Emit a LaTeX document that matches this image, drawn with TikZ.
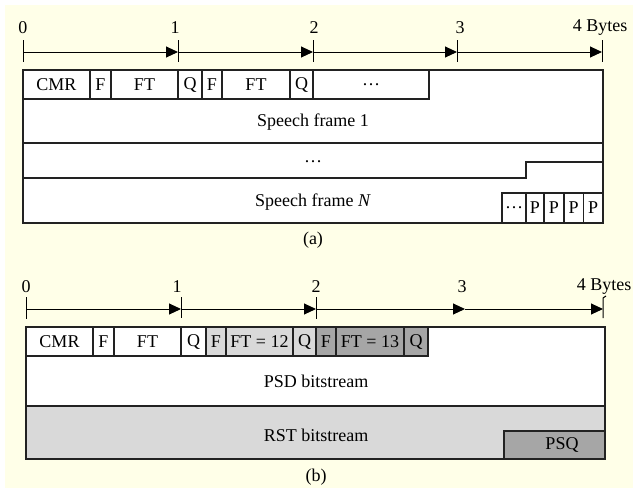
\documentclass[tikz,border=0pt]{standalone}
\usepackage{fontspec}
\setmainfont{Liberation Serif}
\usetikzlibrary{arrows.meta}
\definecolor{bgyel}{HTML}{FFFFE8}
\definecolor{lgray}{HTML}{D9D9D9}
\definecolor{dgray}{HTML}{A6A6A6}
\definecolor{lnc}{HTML}{222222}
\begin{document}
\begin{tikzpicture}[x=1pt,y=-1pt,line width=1.2pt,draw=lnc,
  txt/.style={inner sep=0pt,font=\fontsize{18}{20}\selectfont},
  cell/.style={draw=lnc,rectangle,inner sep=0pt,minimum height=29pt,font=\fontsize{18}{20}\selectfont},
  pcell/.style={cell,minimum height=30pt},
  axarrow/.style={draw=black,line width=1pt,-{Triangle[length=12pt,width=11pt]}},
  axtick/.style={draw=black,line width=1pt}]
\useasboundingbox (0,0) rectangle (633,488);
\fill[bgyel] (5,5) rectangle (633,488);

% ---------------- (a) ----------------
\coordinate (a0) at (23,52);
\coordinate (a1) at (178,52);
\coordinate (a2) at (313,52);
\coordinate (a3) at (457,52);
\coordinate (a4) at (602,52);
\foreach \c in {a0,a1,a2,a3,a4}
  \draw[axtick] ([yshift=12pt]\c) -- ([yshift=-10pt]\c);
\draw[axarrow] (a0) -- (a1);
\draw[axarrow] (a1) -- (a2);
\draw[axarrow] (a2) -- (a3);
\draw[axarrow] (a3) -- (a4);
\node[txt] (la0) at (23,28) {0};
\node[txt] (la1) at (175,28) {1};
\node[txt] (la2) at (314,28) {2};
\node[txt] (la3) at (460,28) {3};
\node[txt] (la4) at (600,28) {4 Bytes};

\fill[white] (23,70) rectangle (603,223);
\draw (23,70) rectangle (603,223);
\draw (23,143) -- (603,143);
\draw (23,178) -- (526,178) -- (526,162) -- (603,162);

\node[cell,minimum width=67pt] (acmr) at (56.5,84.5) {CMR};
\node[cell,minimum width=21pt] (af1) at (100.5,84.5) {F};
\node[cell,minimum width=67pt] (aft1) at (144.5,84.5) {FT};
\node[cell,minimum width=24pt] (aq1) at (190,84.5) {Q};
\node[cell,minimum width=20pt] (af2) at (212,84.5) {F};
\node[cell,minimum width=68pt] (aft2) at (256,84.5) {FT};
\node[cell,minimum width=23pt] (aq2) at (301.5,84.5) {Q};
\node[cell,minimum width=116pt] (adots) at (371,84.5) {\ldots};

\node[txt] (sf1) at (313,122) {Speech frame 1};
\node[txt] (mdots) at (313,162) {\ldots};
\node[txt] (sfn) at (313,202) {Speech frame \textit{N}};

\node[pcell,minimum width=24pt] (pd) at (514,208) {\ldots};
\node[pcell,minimum width=18pt] (p1) at (535,208) {P};
\node[pcell,minimum width=20pt] (p2) at (554,208) {P};
\node[pcell,minimum width=19.5pt] (p3) at (573.75,208) {P};
\node[pcell,minimum width=19.5pt] (p4) at (593.25,208) {P};

\node[txt] (capa) at (313,240) {(a)};

% ---------------- (b) ----------------
\coordinate (b0) at (26,309);
\coordinate (b1) at (181,309);
\coordinate (b2) at (316,309);
\coordinate (b3) at (465,309);
\coordinate (b4) at (603,309);
\draw[axtick] ([yshift=12pt]b0) -- ([yshift=-10pt]b0);
\draw[axtick] ([yshift=12pt]b1) -- ([yshift=-9pt]b1);
\draw[axtick] ([yshift=12pt]b2) -- ([yshift=-10pt]b2);
\draw[axtick] ([yshift=-9pt]b4) -- ([yshift=11pt]b4) -- ([xshift=3pt,yshift=13pt]b4);
\draw[axarrow] (b0) -- (b1);
\draw[axarrow] (b1) -- (b2);
\draw[axarrow] (b2) -- (b3);
\draw[axarrow] (b3) -- (b4);
\node[txt] (lb0) at (26,287) {0};
\node[txt] (lb1) at (177,287) {1};
\node[txt] (lb2) at (316,287) {2};
\node[txt] (lb3) at (462,287) {3};
\node[txt] (lb4) at (604,287) {4 Bytes};

\fill[white] (26,327) rectangle (605,406);
\fill[lgray] (26,406) rectangle (605,459);
\draw (26,327) rectangle (605,459);
\draw (26,406) -- (605,406);

\node[cell,minimum width=67pt] (bcmr) at (59.5,341.5) {CMR};
\node[cell,minimum width=21pt] (bf1) at (103.5,341.5) {F};
\node[cell,minimum width=67pt] (bft1) at (147.5,341.5) {FT};
\node[cell,minimum width=25pt] (bq1) at (193.5,341.5) {Q};
\node[cell,fill=lgray,minimum width=20pt] (bf2) at (216,341.5) {F};
\node[cell,fill=lgray,minimum width=67pt] (bft2) at (259.5,341.5) {FT = 12};
\node[cell,fill=lgray,minimum width=23pt] (bq2) at (304.5,341.5) {Q};
\node[cell,fill=dgray,minimum width=20pt] (bf3) at (326,341.5) {F};
\node[cell,fill=dgray,minimum width=68pt] (bft3) at (370,341.5) {FT = 13};
\node[cell,fill=dgray,minimum width=24pt] (bq3) at (416,341.5) {Q};

\node[txt] (psd) at (316,381) {PSD bitstream};
\node[txt] (rst) at (316,435) {RST bitstream};
\fill[dgray] (504,431) rectangle (605,459);
\draw (504,459) -- (504,431) -- (605,431);
\draw (26,327) rectangle (605,459);
\node[txt] (psq) at (562,445) {PSQ};

\node[txt] (capb) at (316,477) {(b)};
\end{tikzpicture}
\end{document}
